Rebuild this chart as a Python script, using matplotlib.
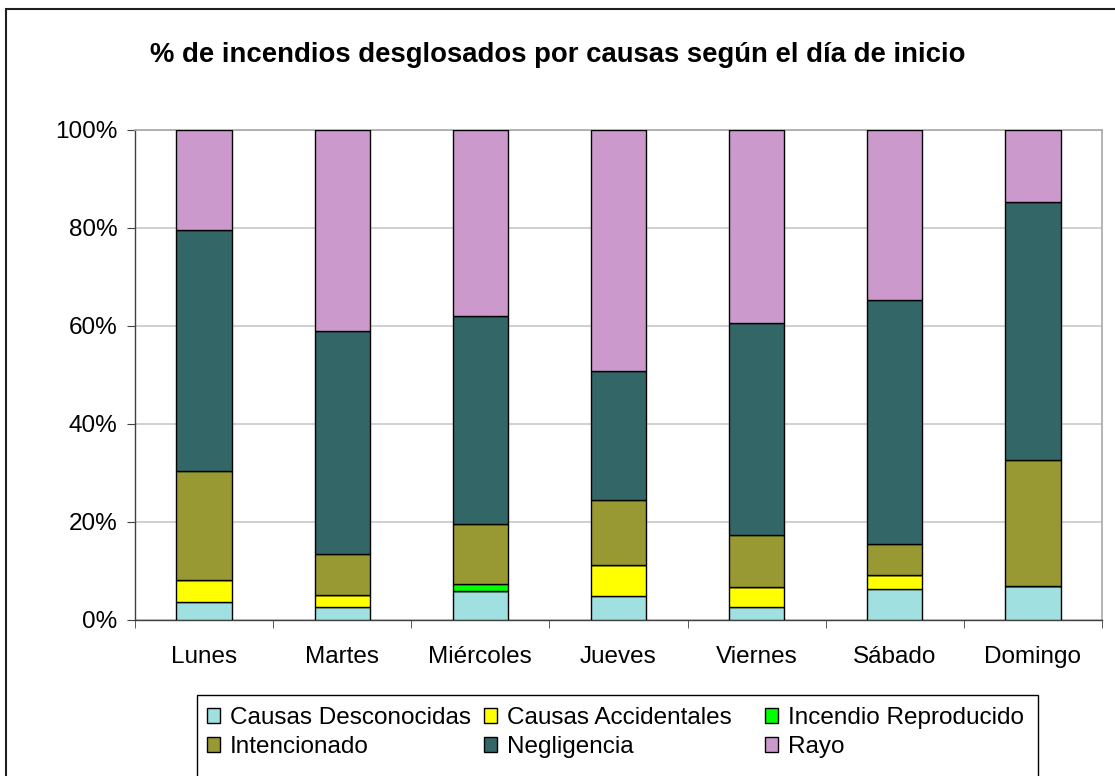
import numpy as np
import matplotlib.pyplot as plt
from matplotlib.patches import Rectangle

plt.rcParams['font.family'] = ['Liberation Sans', 'DejaVu Sans']

dias = ['Lunes', 'Martes', 'Miércoles', 'Jueves', 'Viernes', 'Sábado', 'Domingo']

# porcentaje de incendios por causa y dia de inicio
desconocidas = [3.7, 2.7, 5.9, 4.9, 2.7, 6.3, 7.0]
accidentales = [4.4, 2.5, 0.0, 6.3, 4.0, 2.9, 0.0]
reproducido = [0.0, 0.0, 1.5, 0.0, 0.0, 0.0, 0.0]
intencionado = [22.3, 8.2, 12.1, 13.2, 10.6, 6.3, 25.6]
negligencia = [49.2, 45.5, 42.6, 26.4, 43.4, 49.9, 52.7]
rayo = [20.4, 41.1, 37.9, 49.2, 39.3, 34.6, 14.7]

series = [
    ('Causas Desconocidas', desconocidas, '#A0E0E0'),
    ('Causas Accidentales', accidentales, '#FFFF00'),
    ('Incendio Reproducido', reproducido, '#00FF00'),
    ('Intencionado', intencionado, '#999933'),
    ('Negligencia', negligencia, '#336666'),
    ('Rayo', rayo, '#CC99CC'),
]

W, H = 1115, 776
fs = 17.5
fig = plt.figure(figsize=(W / 100, H / 100), dpi=100)
ax = fig.add_axes([135 / W, 1 - 620 / H, 967 / W, 490 / H])

x = np.arange(len(dias))
bottom = np.zeros(len(dias))
handles = {}
for nombre, vals, color in series:
    vals = np.array(vals)
    b = ax.bar(x, vals, 0.4, bottom=bottom, color=color, edgecolor='black',
               linewidth=1.0, label=nombre, zorder=3)
    handles[nombre] = b
    bottom += vals

ax.set_xlim(-0.5, len(dias) - 0.5)
ax.set_ylim(0, 100)
ax.set_yticks(np.arange(0, 101, 20))
ax.set_yticklabels(['%d%%' % v for v in range(0, 101, 20)], fontsize=fs)
ax.set_xticks(x)
ax.set_xticklabels(dias, fontsize=fs)
ax.set_xticks(np.arange(-0.5, len(dias), 1), minor=True)
ax.tick_params(axis='x', which='major', length=0, pad=18.5)
ax.tick_params(axis='x', which='minor', length=5.5, direction='out', color='#404040')
ax.tick_params(axis='y', length=5.5, direction='out', pad=7, color='#404040')
ax.yaxis.grid(True, color='#c8c8c8', linewidth=1.2, zorder=0)
ax.set_axisbelow(True)
for s in ['left', 'bottom']:
    ax.spines[s].set_color('#404040')
    ax.spines[s].set_linewidth(1.0)
for s in ['right', 'top']:
    ax.spines[s].set_color('#a8a8a8')
    ax.spines[s].set_linewidth(1.2)

fig.text(558 / W, 1 - 55 / H, '% de incendios desglosados por causas según el día de inicio',
         ha='center', va='center', fontsize=19.8, fontweight='bold')

# leyenda: tres columnas de dos entradas
columnas = [
    (207, ['Causas Desconocidas', 'Intencionado']),
    (484, ['Causas Accidentales', 'Negligencia']),
    (765, ['Incendio Reproducido', 'Rayo']),
]
for x0, nombres in columnas:
    leg = fig.legend([handles[n] for n in nombres], nombres, frameon=False,
                     loc='upper left', bbox_to_anchor=(x0 / W, 1 - 707 / H),
                     fontsize=fs, handlelength=0.55, handleheight=0.55,
                     handletextpad=0.38, labelspacing=0.28, borderpad=0,
                     borderaxespad=0)

fig.patches.append(Rectangle((197 / W, -0.02), (1038 - 197) / W, (776 - 695) / H + 0.02,
                             transform=fig.transFigure, fill=False,
                             edgecolor='black', linewidth=1.0))
fig.patches.append(Rectangle((6 / W, -0.05), 1.1, 1.05 - 9.5 / H,
                             transform=fig.transFigure, fill=False,
                             edgecolor='#202020', linewidth=1.5))

fig.savefig('out.png', dpi=100)
